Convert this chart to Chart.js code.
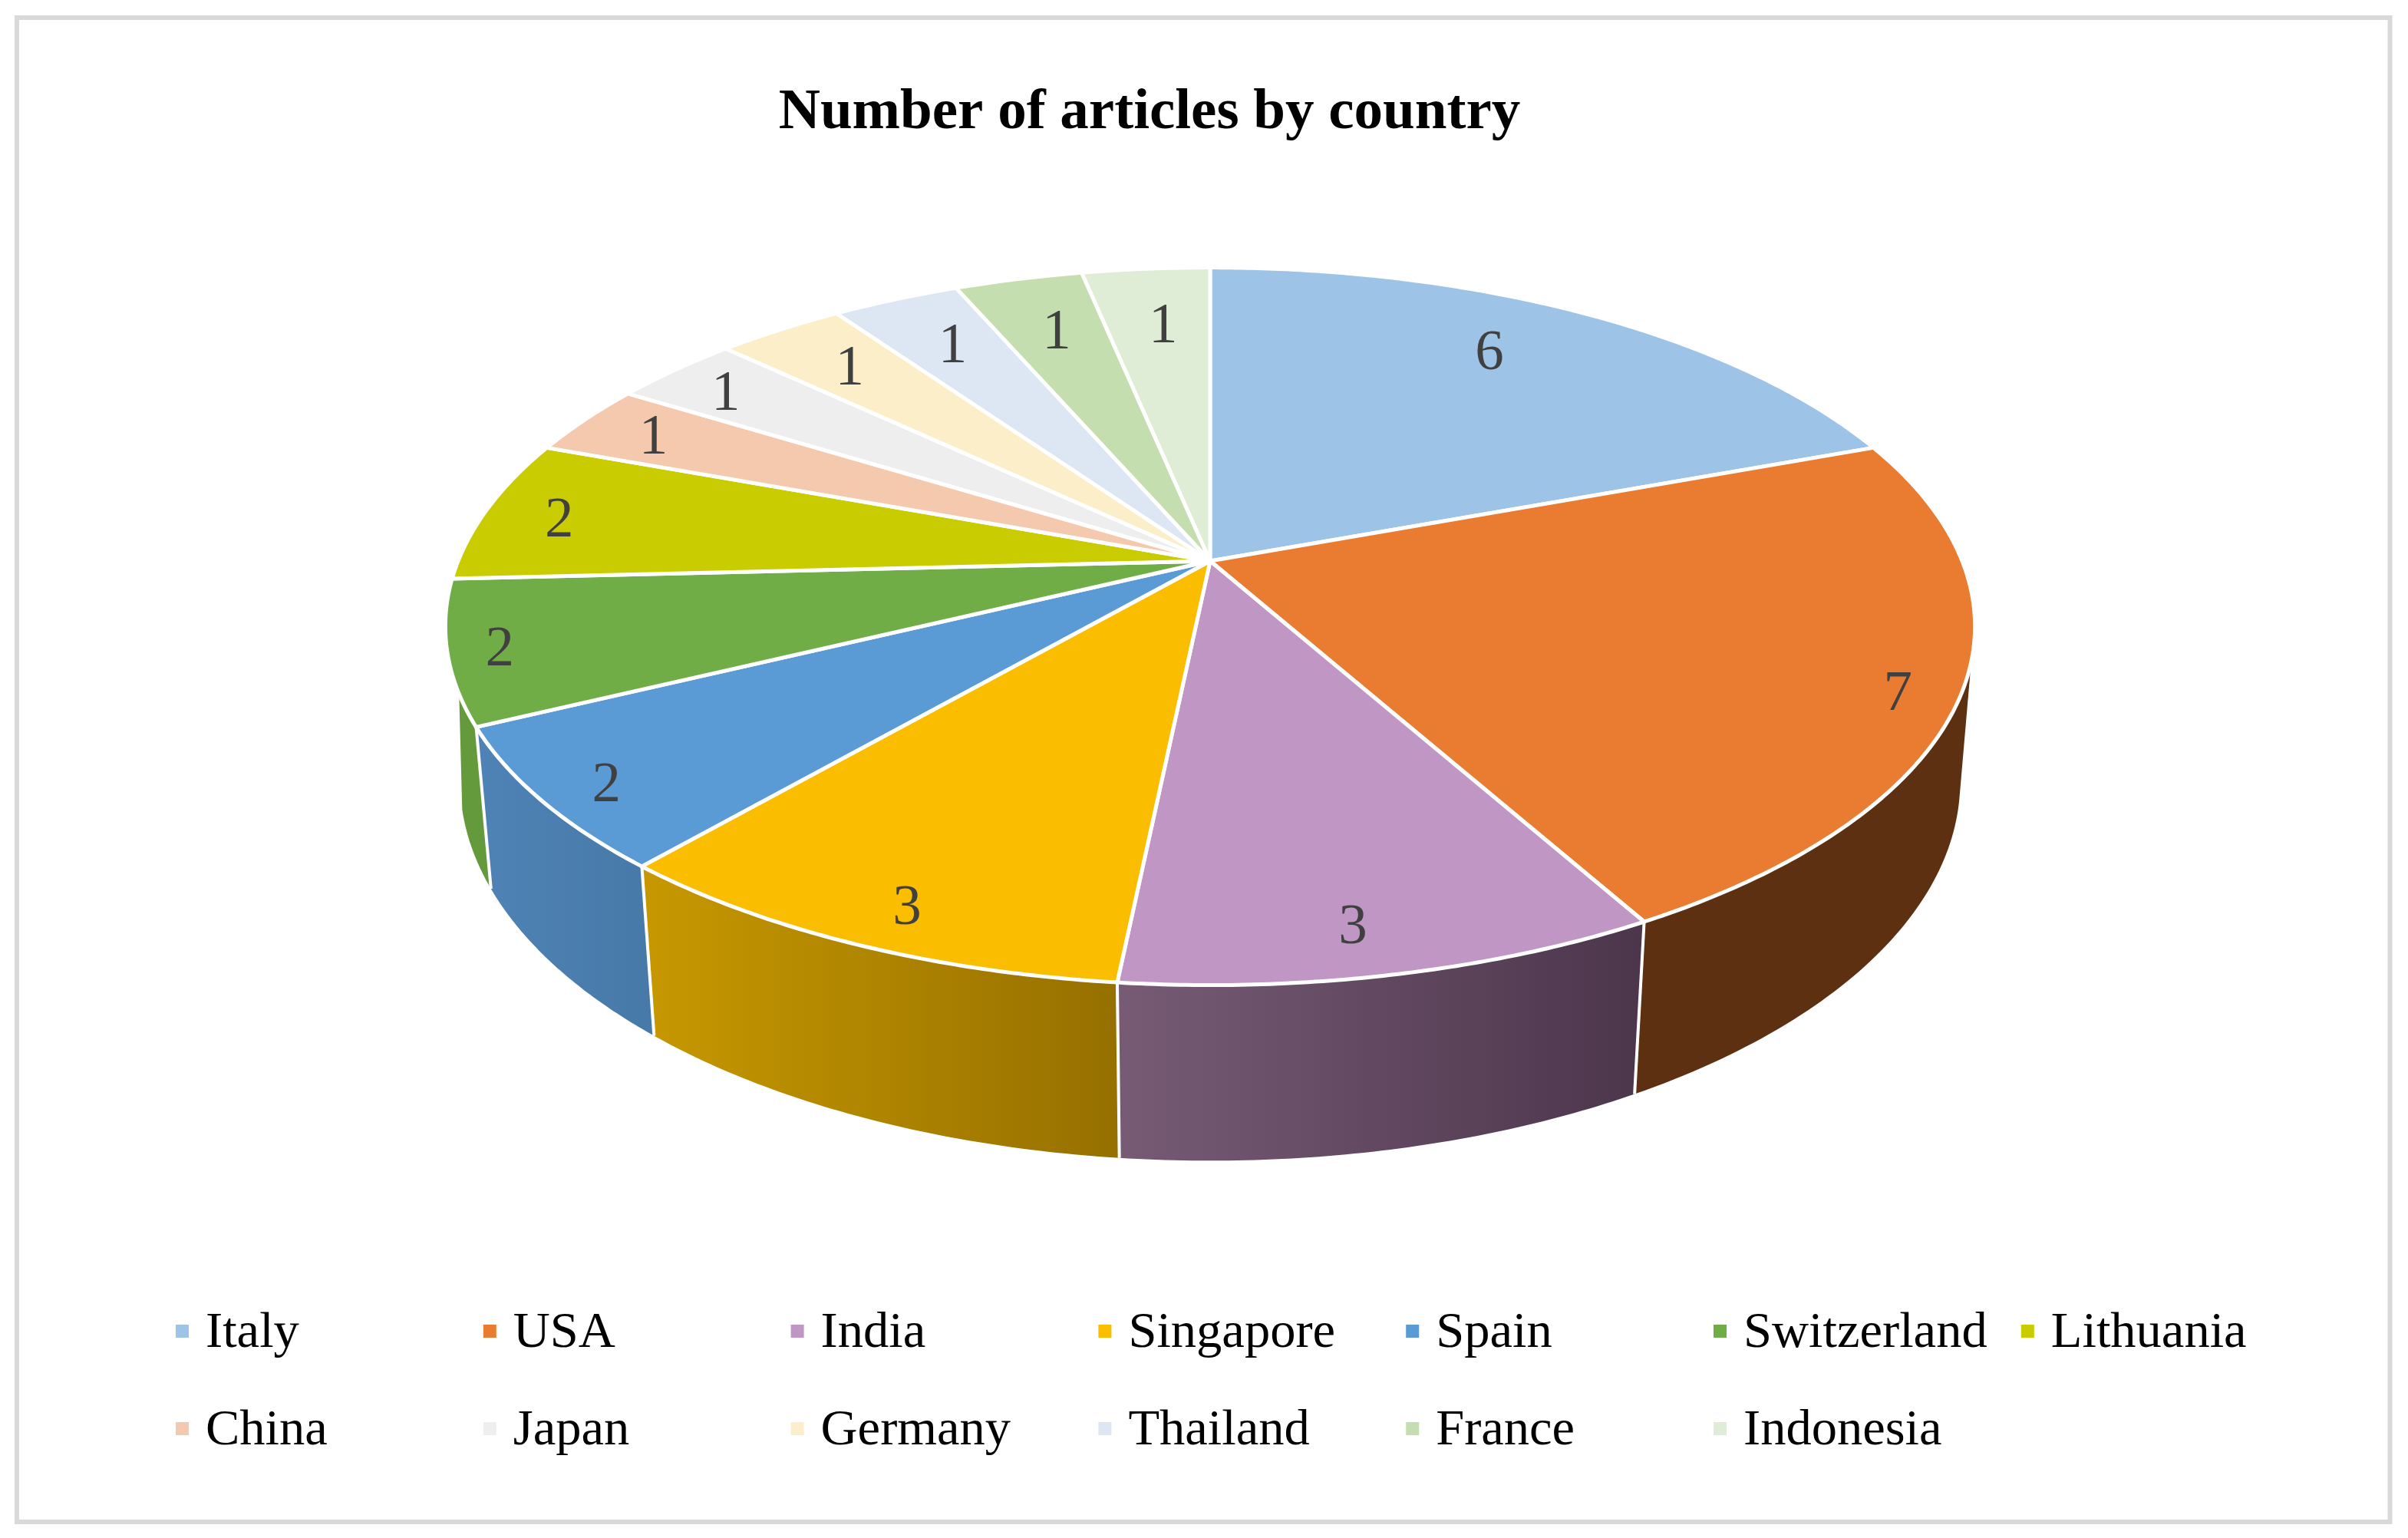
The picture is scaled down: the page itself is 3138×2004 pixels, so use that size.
<!DOCTYPE html>
<html>
<head>
<meta charset="utf-8">
<title>Number of articles by country</title>
<script src="https://cdn.jsdelivr.net/npm/chart.js@4"></script>
<style>
  html, body { margin: 0; padding: 0; background: #fff; }
  canvas { display: block; }
</style>
</head>
<body>
<canvas id="chart" width="3138" height="2004"></canvas>
<script>
const countries = ['Italy', 'USA', 'India', 'Singapore', 'Spain', 'Switzerland', 'Lithuania',
  'China', 'Japan', 'Germany', 'Thailand', 'France', 'Indonesia'];
const articles = [6, 7, 3, 3, 2, 2, 2, 1, 1, 1, 1, 1, 1];
const faceColors = ['#9dc3e6', '#ea7c32', '#c096c4', '#fbbd00', '#5b9bd5', '#70ad47', '#c9cc00',
  '#f4c9ad', '#eeeeee', '#fbeec9', '#dce7f3', '#c5deaf', '#e0edd6'];
// left and right shade of the rim, only the slices facing the viewer have one
const wallShades = [null, ['#5e3012', '#5e3012'], ['#775b75', '#4c364c'], ['#c79800', '#967000'],
  ['#4f83b6', '#477aa8'], ['#659a3c', '#659a3c'], null, null, null, null, null, null, null];
// fine placement of the value labels, Excel did not put them on one radius
const labelNudges = [[-36, -5], [122, 42], [2, 65], [-38, 70], [-106, 50], [-138, 22], [-90, 2],
  [-64, -10], [-62, -13], [-10, -3], [2, 2], [6, 6], [8, 10]];

// perspective of the disc, measured on the reference
const disc = { cx: 1577, cy: 731, a: 980, b: 452, k: 0.182, rimW: 1.019, rimDrop: 202 };
// where the rim comes out from under the disc: top edge and bottom edge, right and left side
const rimStart = { top: 106 * Math.PI / 180, bottom: 103 * Math.PI / 180 };
const rimEnd = { top: 249 * Math.PI / 180, bottom: 255.5 * Math.PI / 180 };
const serif = '"Liberation Serif", "Times New Roman", serif';

function topPoint(theta, f = 1) {
  const X = f * Math.sin(theta), Y = -f * Math.cos(theta);
  const w = 1 - disc.k * Y;
  return [disc.cx + disc.a * X / w, disc.cy + disc.b * Y / w];
}

function bottomPoint(theta) {
  const X = Math.sin(theta), Y = -Math.cos(theta);
  const w = disc.rimW - disc.k * Y;
  return [disc.cx + disc.a * X / w, disc.cy + (disc.b * Y + disc.rimDrop) / w];
}

function arcAngles(arc) {
  return [arc.startAngle + Math.PI / 2, arc.endAngle + Math.PI / 2];
}

function drawWall(ctx, arc, shades) {
  const [t0, t1] = arcAngles(arc);
  const top0 = Math.max(t0, rimStart.top), top1 = Math.min(t1, rimEnd.top);
  const bot0 = Math.max(t0, rimStart.bottom), bot1 = Math.min(t1, rimEnd.bottom);
  const x0 = topPoint(t0)[0], x1 = topPoint(t1)[0];
  const grad = ctx.createLinearGradient(Math.min(x0, x1), 0, Math.max(x0, x1), 0);
  grad.addColorStop(0, shades[0]);
  grad.addColorStop(1, shades[1]);
  ctx.beginPath();
  for (let i = 0; i <= 60; i++) {
    const p = topPoint(top0 + (top1 - top0) * i / 60);
    if (i === 0) ctx.moveTo(p[0], p[1]); else ctx.lineTo(p[0], p[1]);
  }
  for (let i = 60; i >= 0; i--) {
    const p = bottomPoint(bot0 + (bot1 - bot0) * i / 60);
    ctx.lineTo(p[0], p[1]);
  }
  ctx.closePath();
  ctx.fillStyle = grad;
  ctx.fill();
}

function drawFace(ctx, arc, color) {
  const [t0, t1] = arcAngles(arc);
  const steps = Math.max(8, Math.round((t1 - t0) * 120));
  ctx.beginPath();
  ctx.moveTo(disc.cx, disc.cy);
  for (let i = 0; i <= steps; i++) {
    const p = topPoint(t0 + (t1 - t0) * i / steps);
    ctx.lineTo(p[0], p[1]);
  }
  ctx.closePath();
  ctx.fillStyle = color;
  ctx.fill();
  ctx.strokeStyle = '#ffffff';
  ctx.lineWidth = 5;
  ctx.lineJoin = 'round';
  ctx.stroke();
}

const perspectivePie = {
  id: 'perspectivePie',
  beforeDraw(chart) {
    const ctx = chart.ctx;
    ctx.save();
    ctx.strokeStyle = '#d9d9d9';
    ctx.lineWidth = 6;
    ctx.strokeRect(22, 23, 3092.5, 1960);
    ctx.restore();
  },
  // the arcs keep their angles from the pie controller, only the drawing is replaced
  beforeDatasetDraw(chart, args) {
    const ctx = chart.ctx;
    const arcs = args.meta.data;
    ctx.save();
    arcs.forEach((arc, i) => { if (wallShades[i]) drawWall(ctx, arc, wallShades[i]); });
    // white seams between the rim pieces
    arcs.forEach((arc, i) => {
      if (!wallShades[i] || i === 1) return;
      const t = arcAngles(arc)[0];
      const p = topPoint(t), q = bottomPoint(t);
      ctx.beginPath();
      ctx.moveTo(p[0], p[1]);
      ctx.lineTo(q[0], q[1]);
      ctx.strokeStyle = '#ffffff';
      ctx.lineWidth = 4;
      ctx.stroke();
    });
    arcs.forEach((arc, i) => drawFace(ctx, arc, arc.options.backgroundColor));
    ctx.restore();
    return false;
  },
  afterDatasetsDraw(chart) {
    const ctx = chart.ctx;
    const arcs = chart.getDatasetMeta(0).data;
    ctx.save();
    ctx.font = '75px ' + serif;
    ctx.fillStyle = '#404040';
    ctx.textAlign = 'center';
    ctx.textBaseline = 'middle';
    arcs.forEach((arc, i) => {
      const [t0, t1] = arcAngles(arc);
      const p = topPoint((t0 + t1) / 2, 0.8);
      ctx.fillText(String(articles[i]), p[0] + labelNudges[i][0], p[1] + labelNudges[i][1]);
    });
    ctx.restore();
  },
  afterDraw(chart) {
    // legend with fixed columns, the built in one can only flow its items
    const ctx = chart.ctx;
    ctx.save();
    ctx.font = '66.5px ' + serif;
    ctx.textAlign = 'left';
    ctx.textBaseline = 'alphabetic';
    countries.forEach((name, i) => {
      const col = i % 7, row = Math.floor(i / 7);
      const x = 229 + col * 400.8, y = 1726 + row * 127;
      ctx.fillStyle = faceColors[i];
      ctx.fillRect(x, y, 17, 17);
      ctx.fillStyle = '#000000';
      ctx.fillText(name, x + 39, y + 29);
    });
    ctx.restore();
  }
};

new Chart(document.getElementById('chart').getContext('2d'), {
  type: 'pie',
  data: {
    labels: countries,
    datasets: [{ data: articles, backgroundColor: faceColors, borderWidth: 0 }]
  },
  options: {
    responsive: false,
    devicePixelRatio: 1,
    animation: false,
    layout: { padding: { top: 103, right: 142 } },
    plugins: {
      legend: { display: false },
      tooltip: { enabled: false },
      title: {
        display: true,
        text: 'Number of articles by country',
        color: '#000000',
        font: { family: serif, size: 75, weight: 'bold' },
        padding: 0
      }
    }
  },
  plugins: [perspectivePie]
});
</script>
</body>
</html>
